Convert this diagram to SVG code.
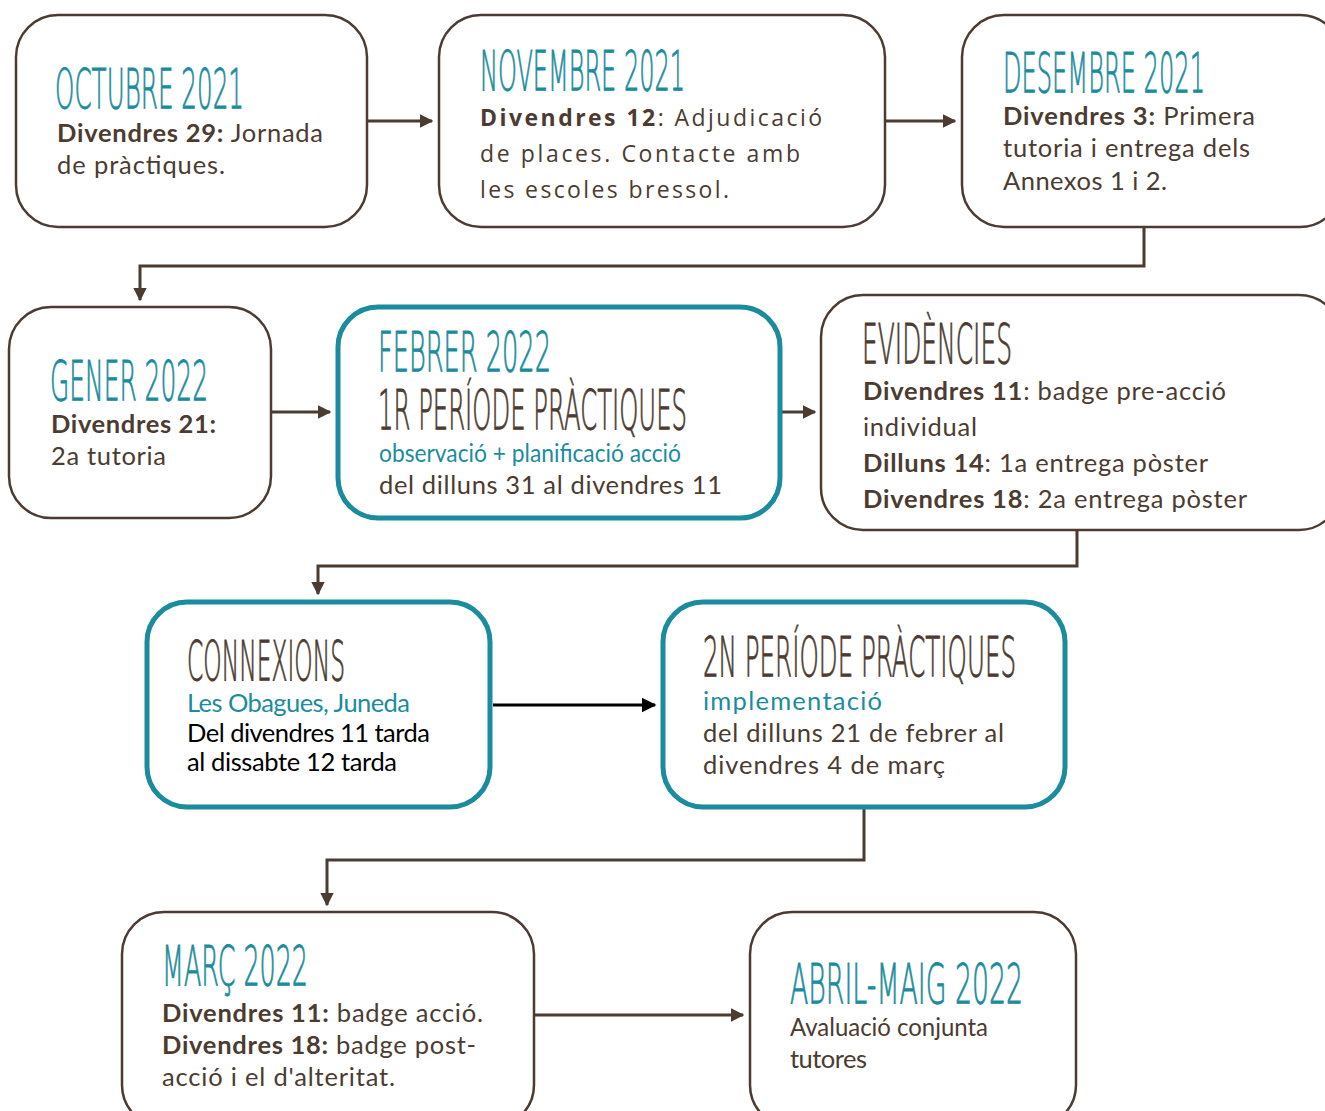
<svg xmlns="http://www.w3.org/2000/svg" width="1325" height="1111" viewBox="0 0 1325 1111">
<defs>
<marker id="ah" viewBox="0 0 10 10" refX="9" refY="5" markerWidth="4.5" markerHeight="4.5" orient="auto" markerUnits="strokeWidth"><path d="M0,0 L10,5 L0,10 z" fill="#4b3b31"/></marker>
<marker id="ahk" viewBox="0 0 10 10" refX="9" refY="5" markerWidth="5" markerHeight="5" orient="auto" markerUnits="strokeWidth"><path d="M0,0 L10,5 L0,10 z" fill="#000"/></marker>
<style>
.bx{fill:#fff;stroke:#4b3b31;stroke-width:2.5}
.tb{fill:#fff;stroke:#1b8c9e;stroke-width:5}
.ttl{font-family:"DejaVu Sans",sans-serif;font-weight:200;font-size:56px;fill:#1b8c9e;stroke:#1b8c9e;stroke-width:0.9}
.ttb{font-family:"DejaVu Sans",sans-serif;font-weight:200;font-size:56px;fill:#4b3b31;stroke:#4b3b31;stroke-width:0.9}
.bd{font-family:Lato,"Liberation Sans",sans-serif;font-size:25.5px;fill:#4b3b31}
.os{font-family:"Open Sans","Liberation Sans",sans-serif;font-size:23px;fill:#4b3b31}
.b{font-weight:bold}
.tl{fill:#1b8c9e}
.k{fill:#000}
.cn{fill:none;stroke:#4b3b31;stroke-width:3}
</style>
</defs>
<g id="connectors">
<line class="cn" x1="367" y1="121" x2="432" y2="121" marker-end="url(#ah)"/>
<line class="cn" x1="885" y1="121" x2="955" y2="121" marker-end="url(#ah)"/>
<polyline class="cn" points="1144,227 1144,266 140,266 140,300" marker-end="url(#ah)"/>
<line class="cn" x1="271" y1="412" x2="330" y2="412" marker-end="url(#ah)"/>
<line class="cn" x1="780" y1="412" x2="815" y2="412" marker-end="url(#ah)"/>
<polyline class="cn" points="1077,530 1077,566 318,566 318,594" marker-end="url(#ah)"/>
<line x1="493" y1="705" x2="655" y2="705" stroke="#000" stroke-width="3" marker-end="url(#ahk)"/>
<polyline class="cn" points="864,808 864,860 327,860 327,905" marker-end="url(#ah)"/>
<line class="cn" x1="534" y1="1015" x2="743" y2="1015" marker-end="url(#ah)"/>
</g>
<g id="octubre">
<rect class="bx" x="16" y="15" width="351" height="212" rx="42"/>
<text class="ttl" x="55" y="108" textLength="189" lengthAdjust="spacingAndGlyphs">OCTUBRE 2021</text>
<text class="bd" x="57" y="142" textLength="266"><tspan class="b">Divendres 29:</tspan> Jornada</text>
<text class="bd" x="57" y="174" textLength="168">de pràctiques.</text>
</g>
<g id="novembre">
<rect class="bx" x="439" y="15" width="446" height="212" rx="42"/>
<text class="ttl" x="480" y="90" textLength="205" lengthAdjust="spacingAndGlyphs">NOVEMBRE 2021</text>
<text class="os" x="480" y="126" textLength="342"><tspan class="b">Divendres 12</tspan>: Adjudicació</text>
<text class="os" x="480" y="162" textLength="320">de places. Contacte amb</text>
<text class="os" x="480" y="198" textLength="249">les escoles bressol.</text>
</g>
<g id="desembre">
<rect class="bx" x="962" y="15" width="380" height="212" rx="42"/>
<text class="ttl" x="1003" y="92" textLength="202" lengthAdjust="spacingAndGlyphs">DESEMBRE 2021</text>
<text class="bd" x="1003" y="125" textLength="252"><tspan class="b">Divendres 3:</tspan> Primera</text>
<text class="bd" x="1003" y="157" textLength="247">tutoria i entrega dels</text>
<text class="bd" x="1003" y="190" textLength="164">Annexos 1 i 2.</text>
</g>
<g id="gener">
<rect class="bx" x="9" y="307" width="262" height="211" rx="42"/>
<text class="ttl" x="50" y="400" textLength="158" lengthAdjust="spacingAndGlyphs">GENER 2022</text>
<text class="bd b" x="51" y="433" textLength="165">Divendres 21:</text>
<text class="bd" x="51" y="465" textLength="115">2a tutoria</text>
</g>
<g id="febrer">
<rect class="tb" x="338" y="307" width="442" height="211" rx="40"/>
<text class="ttl" x="378" y="371" textLength="173" lengthAdjust="spacingAndGlyphs">FEBRER 2022</text>
<text class="ttb" x="378" y="429" textLength="309" lengthAdjust="spacingAndGlyphs">1R PERÍODE PRÀCTIQUES</text>
<text class="bd tl" x="379" y="462" textLength="302" lengthAdjust="spacingAndGlyphs">observació + planificació acció</text>
<text class="bd" x="379" y="494" textLength="343">del dilluns 31 al divendres 11</text>
</g>
<g id="evidencies">
<rect class="bx" x="821" y="295" width="520" height="235" rx="42"/>
<text class="ttb" x="862" y="363" textLength="150" lengthAdjust="spacingAndGlyphs">EVIDÈNCIES</text>
<text class="bd" x="863" y="400" textLength="363"><tspan class="b">Divendres 11</tspan>: badge pre-acció</text>
<text class="bd" x="863" y="436" textLength="114">individual</text>
<text class="bd" x="863" y="472" textLength="345"><tspan class="b">Dilluns 14</tspan>: 1a entrega pòster</text>
<text class="bd" x="863" y="508" textLength="384"><tspan class="b">Divendres 18</tspan>: 2a entrega pòster</text>
</g>
<g id="connexions">
<rect class="tb" x="147" y="602" width="343" height="205" rx="40"/>
<text class="ttb" x="187" y="680" textLength="158" lengthAdjust="spacingAndGlyphs">CONNEXIONS</text>
<text class="bd tl" x="187" y="712" textLength="223">Les Obagues, Juneda</text>
<text class="bd k" x="187" y="742" textLength="243">Del divendres 11 tarda</text>
<text class="bd k" x="187" y="771" textLength="210">al dissabte 12 tarda</text>
</g>
<g id="segon-periode">
<rect class="tb" x="663" y="602" width="402" height="205" rx="40"/>
<text class="ttb" x="703" y="676" textLength="313" lengthAdjust="spacingAndGlyphs">2N PERÍODE PRÀCTIQUES</text>
<text class="bd tl" x="703" y="710" textLength="179">implementació</text>
<text class="bd" x="703" y="742" textLength="301">del dilluns 21 de febrer al</text>
<text class="bd" x="703" y="774" textLength="242">divendres 4 de març</text>
</g>
<g id="marc">
<rect class="bx" x="122" y="912" width="412" height="215" rx="42"/>
<text class="ttl" x="162" y="985" textLength="146" lengthAdjust="spacingAndGlyphs">MARÇ 2022</text>
<text class="bd" x="162" y="1022" textLength="321"><tspan class="b">Divendres 11:</tspan> badge acció.</text>
<text class="bd" x="162" y="1054" textLength="314"><tspan class="b">Divendres 18:</tspan> badge post-</text>
<text class="bd" x="162" y="1086" textLength="233">acció i el d'alteritat.</text>
</g>
<g id="abril-maig">
<rect class="bx" x="750" y="912" width="326" height="215" rx="42"/>
<text class="ttl" x="790" y="1003" textLength="233" lengthAdjust="spacingAndGlyphs">ABRIL-MAIG 2022</text>
<text class="bd" x="790" y="1036" textLength="198" lengthAdjust="spacingAndGlyphs">Avaluació conjunta</text>
<text class="bd" x="790" y="1068" textLength="77">tutores</text>
</g>
</svg>
